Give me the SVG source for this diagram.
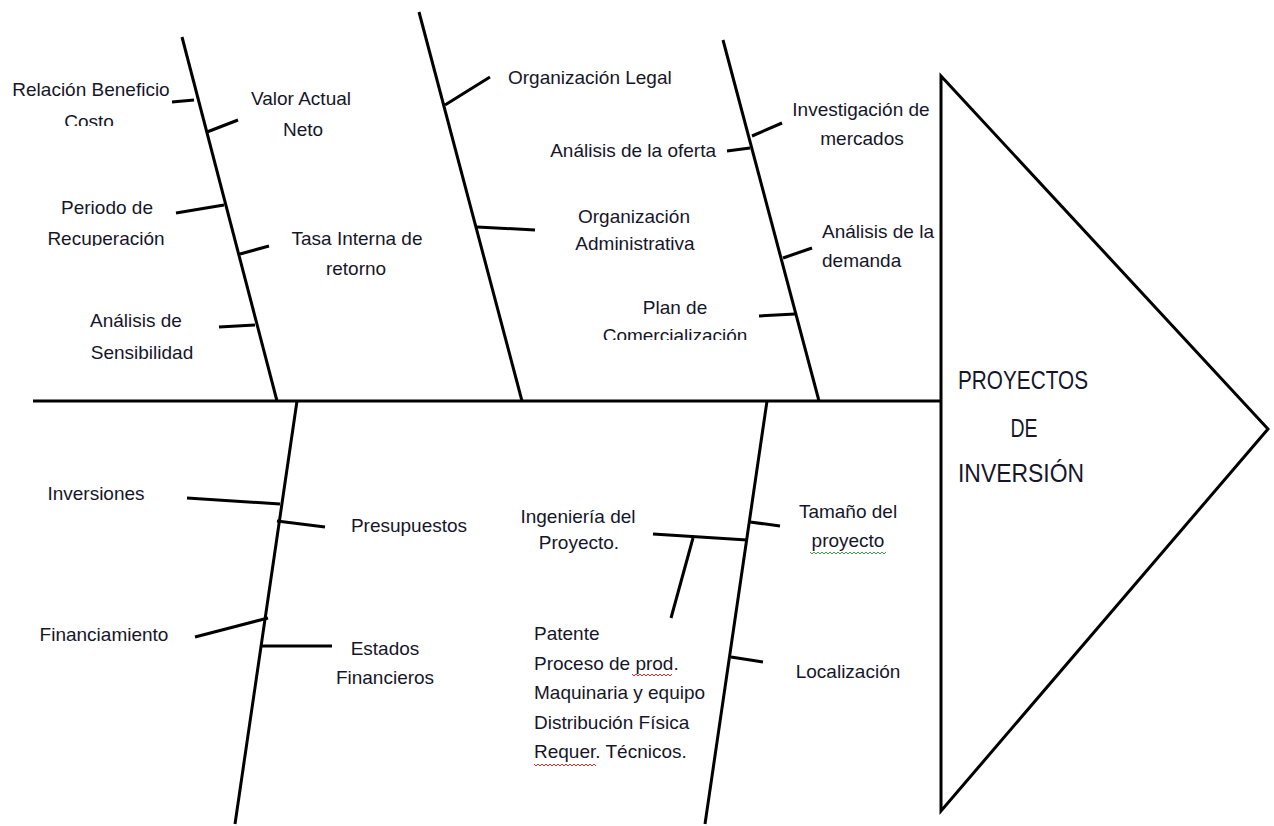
<svg xmlns="http://www.w3.org/2000/svg" width="1274" height="826" viewBox="0 0 1274 826">
  <style>
    .bone { stroke: #000; stroke-width: 3; fill: none; stroke-linecap: butt; }
    .tick { stroke: #000; stroke-width: 3; fill: none; }
    .lbl { font-family: "Liberation Sans", Arial, sans-serif; font-size: 19px; fill: #16162a; }
    .mid { text-anchor: middle; }
    .head { font-family: "Liberation Sans", Arial, sans-serif; font-size: 25px; fill: #16162a; text-anchor: middle; }
    .wave-red { stroke: #e0302a; stroke-width: 1; fill: none; }
    .wave-green { stroke: #3aa04a; stroke-width: 1; fill: none; }
  </style>
  <defs>
    <clipPath id="clipCosto"><rect x="0" y="100" width="200" height="26"/></clipPath>
    <clipPath id="clipRecup"><rect x="0" y="220" width="200" height="26"/></clipPath>
    <clipPath id="clipComer"><rect x="580" y="310" width="200" height="30"/></clipPath>
  </defs>
  <rect width="1274" height="826" fill="#fff"/>

  <!-- spine, bones and ticks -->
  <g id="connectors">
    <line class="bone" x1="33" y1="401" x2="941" y2="401"/>
    <!-- upper bones -->
    <line class="bone" x1="182" y1="37" x2="277" y2="401"/>
    <line class="bone" x1="419" y1="12" x2="522" y2="401"/>
    <line class="bone" x1="723" y1="40" x2="819" y2="401"/>
    <!-- lower bones -->
    <line class="bone" x1="297" y1="401" x2="235" y2="824"/>
    <line class="bone" x1="767" y1="401" x2="705" y2="824"/>

    <!-- ticks on bone 1 -->
    <line class="tick" x1="172" y1="102" x2="194" y2="100"/>
    <line class="tick" x1="207" y1="132" x2="238" y2="120"/>
    <line class="tick" x1="176" y1="213" x2="224" y2="205"/>
    <line class="tick" x1="240" y1="254" x2="269" y2="246"/>
    <line class="tick" x1="219" y1="327" x2="255" y2="325"/>
    <!-- ticks on bone 2 -->
    <line class="tick" x1="445" y1="105" x2="490" y2="77"/>
    <line class="tick" x1="477" y1="227" x2="535" y2="230"/>
    <!-- ticks on bone 3 -->
    <line class="tick" x1="752" y1="136" x2="782" y2="123"/>
    <line class="tick" x1="727" y1="151" x2="750" y2="148"/>
    <line class="tick" x1="783" y1="258" x2="812" y2="248"/>
    <line class="tick" x1="759" y1="316" x2="795" y2="314"/>
    <!-- ticks on bone 4 -->
    <line class="tick" x1="187" y1="498" x2="280" y2="504"/>
    <line class="tick" x1="277" y1="521" x2="325" y2="527"/>
    <line class="tick" x1="195" y1="637" x2="268" y2="618"/>
    <line class="tick" x1="262" y1="646" x2="332" y2="646"/>
    <!-- ticks on bone 5 -->
    <line class="tick" x1="750" y1="522" x2="780" y2="526"/>
    <line class="tick" x1="653" y1="534" x2="747" y2="540"/>
    <line class="tick" x1="693" y1="538" x2="671" y2="618"/>
    <line class="tick" x1="731" y1="657" x2="763" y2="662"/>
  </g>

  <!-- effect head -->
  <g id="head">
    <polygon points="941,76 1268,429 941,811" fill="none" stroke="#000" stroke-width="3" stroke-linejoin="miter"/>
    <text class="head" x="1023" y="389" textLength="130" lengthAdjust="spacingAndGlyphs">PROYECTOS</text>
    <text class="head" x="1024" y="437" textLength="27" lengthAdjust="spacingAndGlyphs">DE</text>
    <text class="head" x="1021" y="482" textLength="126" lengthAdjust="spacingAndGlyphs">INVERSIÓN</text>
  </g>

  <!-- causes: evaluation -->
  <g id="relacion-beneficio-costo">
    <text class="lbl mid" x="91" y="96">Relación Beneficio</text>
    <text class="lbl mid" x="89" y="128" clip-path="url(#clipCosto)">Costo</text>
  </g>
  <g id="valor-actual-neto">
    <text class="lbl mid" x="301" y="105">Valor Actual</text>
    <text class="lbl mid" x="303" y="136">Neto</text>
  </g>
  <g id="periodo-recuperacion">
    <text class="lbl mid" x="107" y="214">Periodo de</text>
    <text class="lbl mid" x="106" y="245" clip-path="url(#clipRecup)">Recuperación</text>
  </g>
  <g id="tasa-interna-retorno">
    <text class="lbl mid" x="357" y="245">Tasa Interna de</text>
    <text class="lbl mid" x="356" y="275">retorno</text>
  </g>
  <g id="analisis-sensibilidad">
    <text class="lbl mid" x="136" y="327">Análisis de</text>
    <text class="lbl mid" x="142" y="359">Sensibilidad</text>
  </g>

  <!-- causes: organisation -->
  <g id="organizacion-legal">
    <text class="lbl" x="508" y="84">Organización Legal</text>
  </g>
  <g id="organizacion-administrativa">
    <text class="lbl mid" x="634" y="223">Organización</text>
    <text class="lbl mid" x="635" y="250">Administrativa</text>
  </g>

  <!-- causes: market -->
  <g id="investigacion-mercados">
    <text class="lbl mid" x="861" y="116">Investigación de</text>
    <text class="lbl mid" x="862" y="145">mercados</text>
  </g>
  <g id="analisis-oferta">
    <text class="lbl" x="716" y="157" text-anchor="end">Análisis de la oferta</text>
  </g>
  <g id="analisis-demanda">
    <text class="lbl" x="822" y="238">Análisis de la</text>
    <text class="lbl" x="822" y="267">demanda</text>
  </g>
  <g id="plan-comercializacion">
    <text class="lbl mid" x="675" y="314">Plan de</text>
    <text class="lbl mid" x="675" y="342" clip-path="url(#clipComer)">Comercialización</text>
  </g>

  <!-- causes: finance -->
  <g id="inversiones">
    <text class="lbl mid" x="96" y="500">Inversiones</text>
  </g>
  <g id="presupuestos">
    <text class="lbl mid" x="409" y="532">Presupuestos</text>
  </g>
  <g id="financiamiento">
    <text class="lbl mid" x="104" y="641">Financiamiento</text>
  </g>
  <g id="estados-financieros">
    <text class="lbl mid" x="385" y="655">Estados</text>
    <text class="lbl mid" x="385" y="684">Financieros</text>
  </g>

  <!-- causes: technical study -->
  <g id="ingenieria-proyecto">
    <text class="lbl mid" x="578" y="523">Ingeniería del</text>
    <text class="lbl mid" x="579" y="549">Proyecto.</text>
  </g>
  <g id="detalle-ingenieria">
    <text class="lbl" x="534" y="640">Patente</text>
    <text class="lbl" x="534" y="670">Proceso de prod.</text>
    <text class="lbl" x="534" y="699">Maquinaria y equipo</text>
    <text class="lbl" x="534" y="729">Distribución Física</text>
    <text class="lbl" x="534" y="758">Requer. Técnicos.</text>
    <polyline class="wave-red" points="632,674 634,676 636,674 638,676 640,674 642,676 644,674 646,676 648,674 650,676 652,674 654,676 656,674 658,676 660,674 662,676 664,674 666,676 668,674 670,676 672,674"/>
    <polyline class="wave-red" points="534,764 536,766 538,764 540,766 542,764 544,766 546,764 548,766 550,764 552,766 554,764 556,766 558,764 560,766 562,764 564,766 566,764 568,766 570,764 572,766 574,764 576,766 578,764 580,766 582,764 584,766 586,764 588,766 590,764 592,766 594,764 596,766"/>
  </g>
  <g id="tamano-proyecto">
    <text class="lbl mid" x="848" y="518">Tamaño del</text>
    <text class="lbl mid" x="848" y="547">proyecto</text>
    <polyline class="wave-green" points="810,552 812,554 814,552 816,554 818,552 820,554 822,552 824,554 826,552 828,554 830,552 832,554 834,552 836,554 838,552 840,554 842,552 844,554 846,552 848,554 850,552 852,554 854,552 856,554 858,552 860,554 862,552 864,554 866,552 868,554 870,552 872,554 874,552 876,554 878,552 880,554 882,552 884,554 886,552"/>
  </g>
  <g id="localizacion">
    <text class="lbl mid" x="848" y="678">Localización</text>
  </g>
</svg>
